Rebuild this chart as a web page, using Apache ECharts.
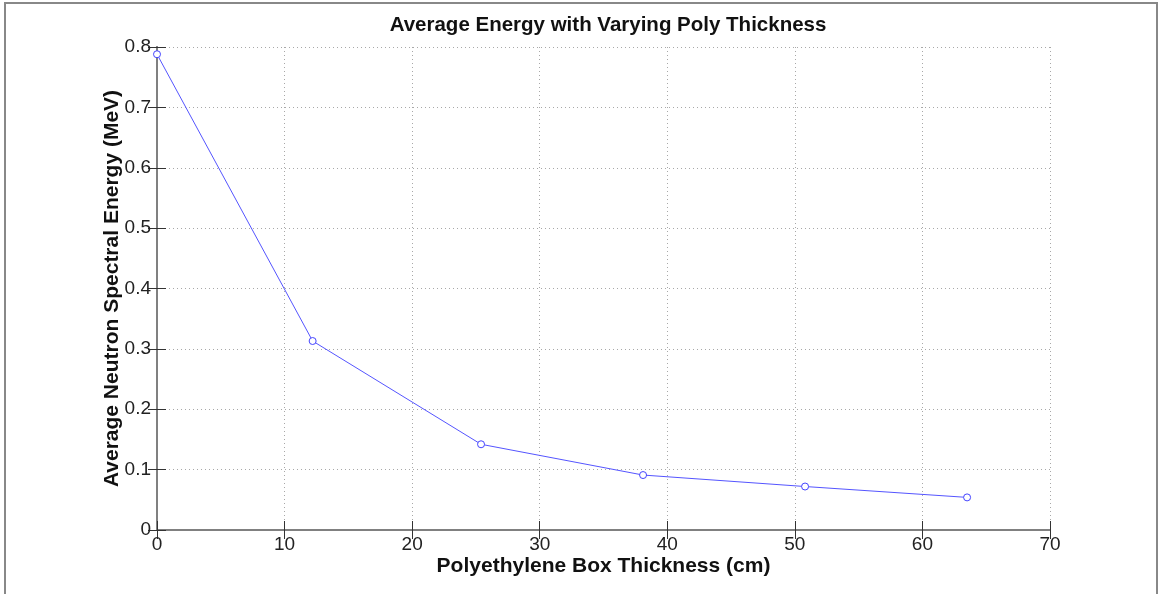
<!DOCTYPE html>
<html>
<head>
<meta charset="utf-8">
<script src="https://cdn.jsdelivr.net/npm/echarts@6/dist/echarts.min.js"></script>
<style>
html,body{margin:0;padding:0;background:#fff;}
#c{width:1160px;height:594px;}
</style>
</head>
<body>
<div id="c"></div>
<script>
const titleText = 'Average Energy with Varying Poly Thickness';
const xName = 'Polyethylene Box Thickness (cm)';
const yName = 'Average Neutron Spectral Energy (MeV)';
const thickness = [0, 12.2, 25.4, 38.1, 50.8, 63.5];
const avgEnergy = [0.788, 0.313, 0.142, 0.091, 0.072, 0.054];

const chart = echarts.init(document.getElementById('c'), null, {renderer:'canvas'});
const font = 'Liberation Sans, Arial, Helvetica, sans-serif';
const axisGray = '#808080';
const gridStyle = {show:true, lineStyle:{color:'#a8a8a8', type:[1,3], width:1}};

chart.setOption({
  animation:false,
  backgroundColor:'#fff',
  title:{
    text:titleText, left:603, top:10, textAlign:'center',
    textStyle:{fontFamily:font, fontSize:20.5, fontWeight:'bold', color:'#111'}
  },
  grid:{left:157, top:47, width:893, height:483, containLabel:false},
  xAxis:[{
    type:'value', min:0, max:70, interval:10, position:'bottom',
    name:xName, nameLocation:'middle', nameGap:26, nameMoveOverlap:false,
    nameTextStyle:{fontFamily:font, fontSize:21, fontWeight:'bold', color:'#111'},
    axisLine:{show:true, lineStyle:{color:axisGray, width:2}},
    axisTick:{show:true, inside:true, length:9, lineStyle:{color:'#333', width:1}},
    axisLabel:{fontFamily:font, fontSize:19, color:'#222', margin:5},
    splitLine:gridStyle
  },{
    type:'value', min:0, max:70, interval:10, position:'top',
    axisLine:{show:true, lineStyle:{color:axisGray, width:2}},
    axisTick:{show:true, inside:true, length:9, lineStyle:{color:'#333', width:1}},
    axisLabel:{show:false}, splitLine:{show:false}
  }],
  yAxis:[{
    type:'value', min:0, max:0.8, interval:0.1, position:'left',
    name:yName, nameLocation:'middle', nameGap:34, nameRotate:90, nameMoveOverlap:false,
    nameTextStyle:{fontFamily:font, fontSize:21, fontWeight:'bold', color:'#111'},
    axisLine:{show:true, lineStyle:{color:axisGray, width:2}},
    axisTick:{show:true, inside:true, length:9, lineStyle:{color:'#333', width:1}},
    axisLabel:{fontFamily:font, fontSize:19, color:'#222', margin:6,
      formatter:v=>String(Math.round(v*10)/10)},
    splitLine:gridStyle
  },{
    type:'value', min:0, max:0.8, interval:0.1, position:'right',
    axisLine:{show:true, lineStyle:{color:axisGray, width:2}},
    axisTick:{show:true, inside:true, length:9, lineStyle:{color:'#333', width:1}},
    axisLabel:{show:false}, splitLine:{show:false}
  }],
  graphic:[{
    type:'rect', shape:{x:5, y:3, width:1152, height:600},
    style:{fill:'none', stroke:'#888', lineWidth:2}, silent:true
  }],
  series:[{
    type:'line', xAxisIndex:0, yAxisIndex:0,
    data:thickness.map((x,i)=>[x, avgEnergy[i]]),
    lineStyle:{color:'#5555ff', width:1},
    symbol:'circle', symbolSize:7,
    itemStyle:{color:'#fff', borderColor:'#4444ff', borderWidth:1},
    clip:false
  }]
});
</script>
</body>
</html>
